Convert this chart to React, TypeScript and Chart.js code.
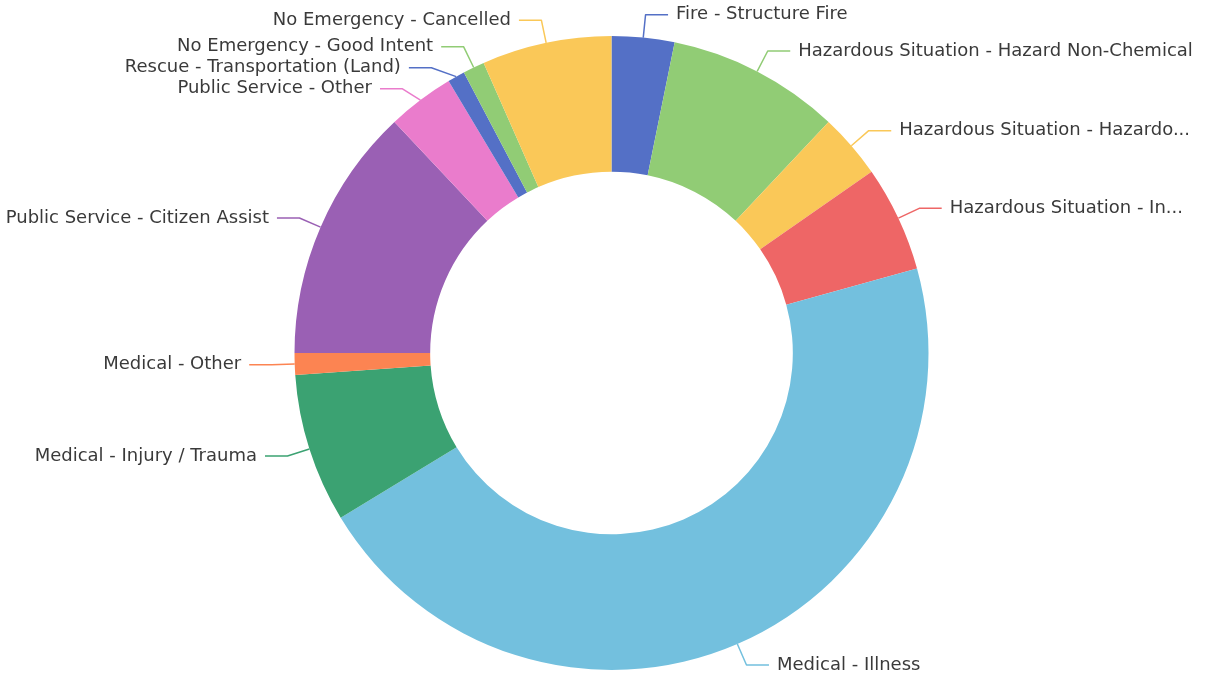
import { useEffect, useRef } from "react";
import { Chart, registerables } from "chart.js";

Chart.register(...registerables);

const categories = [
  "Fire - Structure Fire",
  "Hazardous Situation - Hazard Non-Chemical",
  "Hazardous Situation - Hazardo...",
  "Hazardous Situation - In...",
  "Medical - Illness",
  "Medical - Injury / Trauma",
  "Medical - Other",
  "Public Service - Citizen Assist",
  "Public Service - Other",
  "Rescue - Transportation (Land)",
  "No Emergency - Good Intent",
  "No Emergency - Cancelled",
];

const counts = [29, 80, 30, 49, 414, 69, 10, 118, 31, 8, 10, 60];

const palette = [
  "#5470c6", "#91cc75", "#fac858", "#ee6666", "#73c0de", "#3ba272",
  "#fc8452", "#9a60b4", "#ea7ccc", "#5470c6", "#91cc75", "#fac858",
];

const LINE_LEN = 23;
const LINE_LEN2 = 22.5;
const LABEL_GAP = 8;
const LABEL_H = 21;
const LABEL_FONT = '18px "DejaVu Sans"';

type Item = {
  i: number; cx: number; cy: number; rA: number; dir: number;
  ex: number; ey: number; ax: number; ay: number; ly: number; shifted: boolean;
};

const labelPlugin = {
  id: "pieOuterLabels",
  afterDatasetsDraw(chart: any) {
    const meta = chart.getDatasetMeta(0);
    const ctx: CanvasRenderingContext2D = chart.ctx;
    const labels: string[] = chart.data.labels;
    const colors: string[] = chart.data.datasets[0].backgroundColor;
    const items: Item[] = meta.data.map((arc: any, i: number) => {
      const p = arc.getProps(["x", "y", "startAngle", "endAngle", "outerRadius"], true);
      const mid = (p.startAngle + p.endAngle) / 2;
      const c = Math.cos(mid);
      const s = Math.sin(mid);
      const rA = p.outerRadius + LINE_LEN;
      return {
        i, cx: p.x, cy: p.y, rA, dir: c < 0 ? -1 : 1,
        ex: p.x + c * p.outerRadius, ey: p.y + s * p.outerRadius,
        ax: p.x + c * rA, ay: p.y + s * rA, ly: p.y + s * rA, shifted: false,
      };
    });
    for (const dir of [-1, 1]) {
      const side = items.filter((it) => it.dir === dir).sort((a, b) => a.ly - b.ly);
      let lastPos = 0;
      for (const it of side) {
        const top = it.ly - LABEL_H / 2;
        if (top < lastPos) {
          it.ly += lastPos - top;
          it.shifted = true;
        }
        lastPos = it.ly + LABEL_H / 2;
      }
      for (const it of side) {
        if (it.shifted) {
          const dy = Math.min(Math.abs(it.ly - it.cy), it.rA);
          it.ax = it.cx + dir * (Math.sqrt(it.rA * it.rA - dy * dy) - 5);
        }
        it.ay = it.ly;
      }
    }
    ctx.save();
    for (const it of items) {
      ctx.beginPath();
      ctx.strokeStyle = colors[it.i];
      ctx.lineWidth = 1.5;
      ctx.lineJoin = "round";
      ctx.moveTo(it.ex, it.ey);
      ctx.lineTo(it.ax, it.ay);
      ctx.lineTo(it.ax + it.dir * LINE_LEN2, it.ay);
      ctx.stroke();
    }
    ctx.font = LABEL_FONT;
    ctx.textBaseline = "middle";
    for (const it of items) {
      const tx = it.ax + it.dir * (LINE_LEN2 + LABEL_GAP);
      ctx.textAlign = it.dir < 0 ? "right" : "left";
      ctx.lineJoin = "round";
      ctx.strokeStyle = "#ffffff";
      ctx.lineWidth = 3;
      ctx.strokeText(labels[it.i], tx, it.ay);
      ctx.fillStyle = "#3a3a3a";
      ctx.fillText(labels[it.i], tx, it.ay);
    }
    ctx.restore();
  },
};

export default function App() {
  const canvasRef = useRef<HTMLCanvasElement | null>(null);

  useEffect(() => {
    if (!canvasRef.current) return;
    const chart = new Chart(canvasRef.current, {
      type: "doughnut",
      data: {
        labels: categories,
        datasets: [
          {
            data: counts,
            backgroundColor: palette,
            borderWidth: 0,
            hoverOffset: 0,
          },
        ],
      },
      options: {
        responsive: false,
        animation: false,
        radius: 317,
        cutout: "57.2%",
        layout: { padding: { top: 36, bottom: 13, left: 17, right: 0 } },
        plugins: {
          legend: { display: false },
          tooltip: { enabled: false },
        },
      } as any,
      plugins: [labelPlugin],
    });
    return () => chart.destroy();
  }, []);

  return (
    <div style={{ position: "absolute", left: 0, top: 0, width: 1206, height: 683, background: "#ffffff" }}>
      <canvas ref={canvasRef} width={1206} height={683} style={{ display: "block" }} />
    </div>
  );
}
